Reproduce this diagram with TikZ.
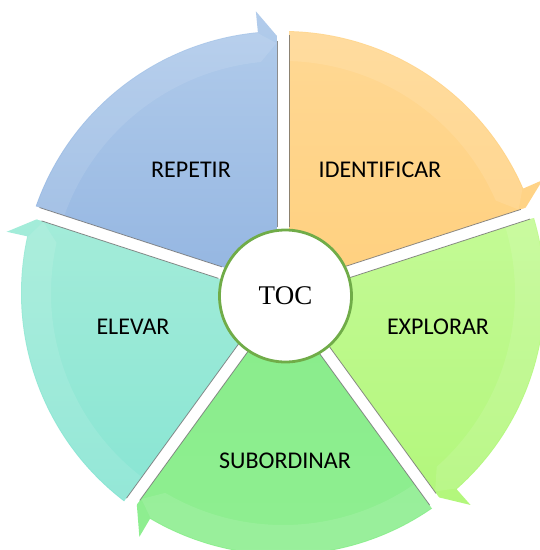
\documentclass[tikz,border=0pt]{standalone}
\usepackage{fontspec}
\newfontfamily\labelfont{Carlito}
\newfontfamily\tocfont{Liberation Serif}
\definecolor{blueT}{HTML}{B2CCEB}
\definecolor{blueB}{HTML}{93B5E1}
\definecolor{orangeT}{HTML}{FFD894}
\definecolor{orangeB}{HTML}{FFD07E}
\definecolor{limeT}{HTML}{C4FA96}
\definecolor{limeB}{HTML}{B2F77B}
\definecolor{greenT}{HTML}{89ED8B}
\definecolor{greenB}{HTML}{8FEE91}
\definecolor{tealT}{HTML}{A4ECD9}
\definecolor{tealB}{HTML}{88E5D3}
\definecolor{hubgreen}{HTML}{70AC48}
\begin{document}
\begin{tikzpicture}[x=1pt,y=1pt,
  seglabel/.style={font=\labelfont\fontsize{24}{24}\selectfont, text=black, inner sep=0pt},
  gapstripe/.style={white, line width=12pt},
  gapedge/.style={black!60, line width=0.8pt, opacity=0.75},
  gloss/.style={white, opacity=0.1},
  hub/.style={circle, draw=hubgreen, line width=2.8pt, fill=white,
    minimum size=132pt, inner sep=0pt, font=\tocfont\fontsize{27}{27}\selectfont}
]
\useasboundingbox (0,0) rectangle (540,-550);
\fill[white] (0,0) rectangle (540,-550);

% five circular arrow segments, each running clockwise from its tail to its head
\begin{scope}[shift={(283,-293)}]
  \foreach \as/\ae/\ct/\cb in {162/90/blueT/blueB, 90/18/orangeT/orangeB,
      18/-54/limeT/limeB, -54/-126/greenT/greenB, -126/-198/tealT/tealB} {
    \pgfmathsetmacro\an{\ae+5.5}
    \pgfmathsetmacro\at{\ae-1}
    \pgfmathsetmacro\ag{\ae+1.5}
    \shade[top color=\ct, bottom color=\cb]
      (0,0) -- (\as:262) arc[start angle=\as, end angle=\an, radius=262]
      -- (\an:283) -- (\at:245) -- cycle;
    % lighter outer band with its own small point
    \fill[gloss] (\as:261) arc[start angle=\as, end angle=\an, radius=261]
      -- (\ag:250) -- (\an:232) arc[start angle=\an, end angle=\as, radius=232] -- cycle;
  }
  % white gaps between the segments, with thin shaded edges
  \foreach \a in {90,18,-54,-126,162} {
    \begin{scope}[rotate=\a]
      \draw[gapstripe] (0,0) -- (300,0);
      \draw[gapedge] (66,6) -- (252,6);
      \draw[gapedge] (66,-6) -- (258,-6);
    \end{scope}
  }
\end{scope}

% segment labels
\node[seglabel] (repetir) at (191,-170) {REPETIR};
\node[seglabel] (identificar) at (380,-170) {IDENTIFICAR};
\node[seglabel] (explorar) at (438,-327) {EXPLORAR};
\node[seglabel] (subordinar) at (285,-461) {SUBORDINAR};
\node[seglabel] (elevar) at (133,-327) {ELEVAR};

% central hub
\node[hub] (toc) at (285.5,-296) {TOC};
\end{tikzpicture}
\end{document}
